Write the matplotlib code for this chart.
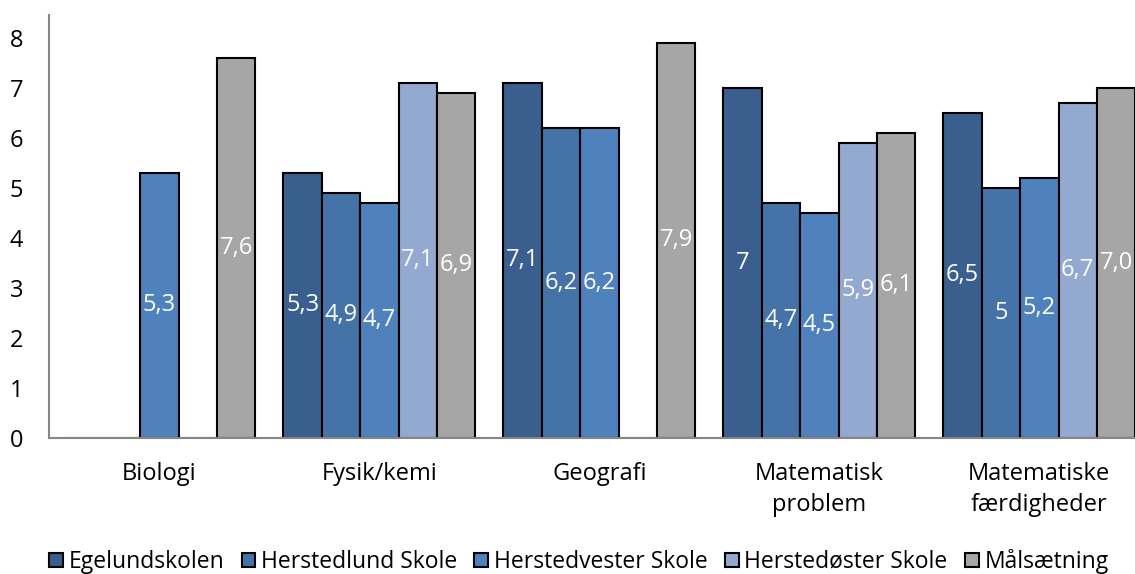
import numpy as np
import matplotlib
matplotlib.use("Agg")
import matplotlib.pyplot as plt

plt.rcParams["font.family"] = ["Open Sans", "DejaVu Sans"]

categories = ["Biologi", "Fysik/kemi", "Geografi", "Matematisk\nproblem", "Matematiske\nfærdigheder"]
schools = ["Egelundskolen", "Herstedlund Skole", "Herstedvester Skole", "Herstedøster Skole", "Målsætning"]
egelund = [np.nan, 5.3, 7.1, 7.0, 6.5]
herstedlund = [np.nan, 4.9, 6.2, 4.7, 5.0]
herstedvester = [5.3, 4.7, 6.2, 4.5, 5.2]
herstedoester = [np.nan, 7.1, np.nan, 5.9, 6.7]
maalsaetning = [7.6, 6.9, 7.9, 6.1, 7.0]
label_egelund = ["", "5,3", "7,1", "7", "6,5"]
label_herstedlund = ["", "4,9", "6,2", "4,7", "5"]
label_herstedvester = ["5,3", "4,7", "6,2", "4,5", "5,2"]
label_herstedoester = ["", "7,1", "", "5,9", "6,7"]
label_maal = ["7,6", "6,9", "7,9", "6,1", "7,0"]

series = [egelund, herstedlund, herstedvester, herstedoester, maalsaetning]
labels = [label_egelund, label_herstedlund, label_herstedvester, label_herstedoester, label_maal]
colors = ["#3A5F8E", "#4573A8", "#4F81BD", "#94A9D0", "#A6A6A6"]

fig = plt.figure(figsize=(11.35, 5.74), dpi=100)
ax = fig.add_axes([0.0436, 0.237, 0.969, 0.737])

x = np.arange(len(categories))
w = 0.1745
for i, (vals, labs) in enumerate(zip(series, labels)):
    v = np.array(vals, dtype=float)
    bars = ax.bar(x + (i - 2) * w, np.nan_to_num(v), w, color=colors[i],
                  edgecolor="black", linewidth=1.5, label=schools[i])
    for b, val, lab in zip(bars, v, labs):
        if lab:
            ax.text(b.get_x() + b.get_width() / 2, val / 2, lab, color="white",
                    ha="center", va="center", fontsize=17)

ax.set_xlim(-0.5, 4.5)
ax.set_ylim(0, 8.46)
ax.set_yticks(range(9))
ax.set_xticks(x)
ax.set_xticklabels(categories, fontsize=17, linespacing=1.4)
ax.tick_params(axis="y", length=0, pad=19, labelsize=17)
ax.tick_params(axis="x", length=0, pad=17)
for s in ["top", "right"]:
    ax.spines[s].set_visible(False)
for s in ["left", "bottom"]:
    ax.spines[s].set_color("#868686")
    ax.spines[s].set_linewidth(1.5)

fig.legend(loc="center", bbox_to_anchor=(0.51, 0.022), ncol=5, frameon=False,
           fontsize=16.5, handlelength=0.6, handleheight=0.6, handletextpad=0.25,
           columnspacing=0.75)

fig.savefig("out.png", dpi=100)
